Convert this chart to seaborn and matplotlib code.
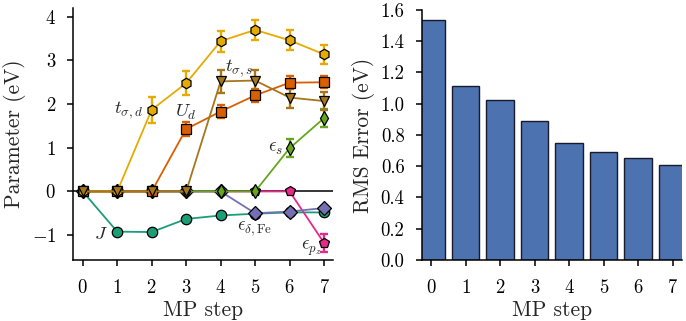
import matplotlib
matplotlib.use("Agg")
import matplotlib.pyplot as plt
import seaborn as sns
import pandas as pd

# MP steps
steps = [0, 1, 2, 3, 4, 5, 6, 7]

# fitted parameters (eV) per MP step
t_sd = [0, 0, 1.87, 2.48, 3.44, 3.70, 3.46, 3.14]
t_sd_err = [0, 0, 0.30, 0.27, 0.24, 0.23, 0.23, 0.22]
u_d = [0, 0, 0, 1.43, 1.83, 2.20, 2.49, 2.50]
u_d_err = [0, 0, 0, 0.15, 0.15, 0.15, 0.15, 0.14]
t_ss = [0, 0, 0, 0, 2.52, 2.54, 2.15, 2.07]
t_ss_err = [0, 0, 0, 0, 0.26, 0.25, 0.25, 0.20]
eps_s = [0, 0, 0, 0, 0, 0, 0.99, 1.68]
eps_s_err = [0, 0, 0, 0, 0, 0, 0.20, 0.20]
eps_d = [0, 0, 0, 0, 0, -0.50, -0.46, -0.38]
eps_d_err = [0, 0, 0, 0, 0, 0.03, 0.03, 0.03]
eps_pz = [0, 0, 0, 0, 0, 0, 0, -1.18]
eps_pz_err = [0, 0, 0, 0, 0, 0, 0, 0.21]
j_ex = [0, -0.92, -0.93, -0.63, -0.55, -0.51, -0.48, -0.48]
j_ex_err = [0, 0.03, 0.03, 0.03, 0.03, 0.03, 0.03, 0.03]

# RMS error of the fit (eV)
rms = [1.536, 1.113, 1.024, 0.892, 0.747, 0.691, 0.655, 0.606]

sns.set_style("ticks")
plt.rcParams["font.family"] = "serif"
plt.rcParams["font.serif"] = ["cmr10", "DejaVu Serif"]
plt.rcParams["mathtext.fontset"] = "cm"
plt.rcParams["axes.formatter.use_mathtext"] = True
plt.rcParams["axes.unicode_minus"] = True
plt.rcParams["xtick.labelsize"] = 13.5
plt.rcParams["ytick.labelsize"] = 13.5
plt.rcParams["axes.labelsize"] = 15.5
plt.rcParams["axes.edgecolor"] = "black"
plt.rcParams["xtick.color"] = "black"
plt.rcParams["ytick.color"] = "black"
plt.rcParams["axes.linewidth"] = 1.1
plt.rcParams["xtick.major.width"] = 1.1
plt.rcParams["ytick.major.width"] = 1.1
plt.rcParams["xtick.major.size"] = 4.5
plt.rcParams["ytick.major.size"] = 4.5
plt.rcParams["xtick.major.pad"] = 9.5
plt.rcParams["ytick.major.pad"] = 8

series = {
    "J": (j_ex, j_ex_err, "#1B9E77", "o"),
    "eps_pz": (eps_pz, eps_pz_err, "#E7298A", "p"),
    "eps_d": (eps_d, eps_d_err, "#7570B3", "D"),
    "eps_s": (eps_s, eps_s_err, "#66A61E", "d"),
    "U_d": (u_d, u_d_err, "#D95F02", "s"),
    "t_sd": (t_sd, t_sd_err, "#E6AB02", "h"),
    "t_ss": (t_ss, t_ss_err, "#A6761D", "v"),
}

rows = []
for name, (vals, errs, c, m) in series.items():
    for s, v, e in zip(steps, vals, errs):
        rows.append({"step": s, "value": v, "err": e, "name": name})
df = pd.DataFrame(rows)

fig = plt.figure(figsize=(6.86, 3.21), dpi=100)
ax1 = fig.add_axes([0.107, 0.19, 0.379, 0.785])
ax2 = fig.add_axes([0.615, 0.19, 0.379, 0.779])

# left: parameters
ax1.axhline(0, color="black", lw=1.1, zorder=1)
for name, (vals, errs, c, m) in series.items():
    sub = df[(df["name"] == name) & (df["value"] != 0)]
    ax1.errorbar(sub["step"], sub["value"], yerr=sub["err"], fmt="none",
                 ecolor=c, elinewidth=1.7, capsize=3.2, capthick=1.7, zorder=2)
sns.lineplot(data=df, x="step", y="value", hue="name", style="name",
             hue_order=list(series), style_order=list(series),
             palette={k: v[2] for k, v in series.items()},
             markers={k: v[3] for k, v in series.items()},
             dashes=False, markersize=7.5, markeredgecolor="black",
             markeredgewidth=0.9, lw=1.3, legend=False, ax=ax1, zorder=3)
ax1.set_xlim(-0.27, 7.27)
ax1.set_ylim(-1.57, 4.2)
ax1.set_xticks(steps)
ax1.set_yticks([-1, 0, 1, 2, 3, 4])
ax1.set_xlabel("MP step", labelpad=2)
ax1.set_ylabel("Parameter (eV)", labelpad=4)
lab = dict(fontsize=13.5, va="center")
ax1.text(1.75, 1.87, r"$t_{\sigma,d}$", ha="right", **lab)
ax1.text(3.0, 1.8, r"$U_d$", ha="center", **lab)
ax1.text(4.52, 2.82, r"$t_{\sigma,s}$", ha="center", **lab)
ax1.text(5.58, 1.0, r"$\epsilon_s$", ha="center", **lab)
ax1.text(4.98, -0.86, r"$\epsilon_{\delta,\mathrm{Fe}}$", ha="center", **lab)
ax1.text(6.62, -1.3, r"$\epsilon_{p_z}$", ha="center", **lab)
ax1.text(0.53, -0.97, r"$J$", ha="center", **lab)
sns.despine(ax=ax1)

# right: RMS error
sns.barplot(x=steps, y=rms, color="#4C72B0", saturation=1, width=0.8,
            edgecolor="#1a1a2e", linewidth=1.0, ax=ax2)
ax2.set_xlim(-0.27, 7.27)
ax2.set_ylim(0, 1.6)
ax2.set_yticks([0, 0.2, 0.4, 0.6, 0.8, 1.0, 1.2, 1.4, 1.6])
ax2.set_yticklabels([f"{v:.1f}" for v in [0, 0.2, 0.4, 0.6, 0.8, 1.0, 1.2, 1.4, 1.6]])
ax2.set_xlabel("MP step", labelpad=2)
ax2.set_ylabel("RMS Error (eV)", labelpad=4)
sns.despine(ax=ax2)

fig.savefig("out.png", dpi=100)
